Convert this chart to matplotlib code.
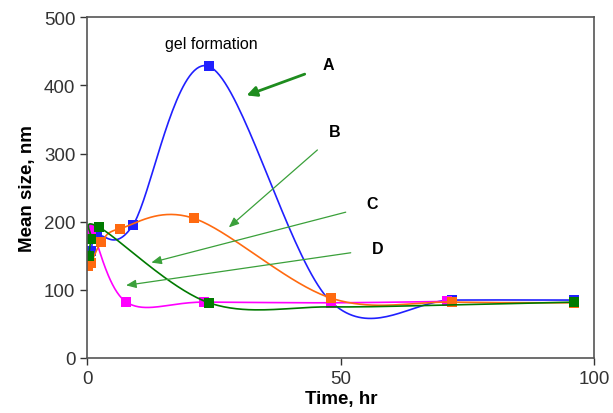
import numpy as np
from matplotlib import pyplot as plt

plt.rcParams['font.family'] = ['Liberation Sans', 'DejaVu Sans']

# data (time in hr, mean size in nm)
timeA = [0, 0.7, 2, 9, 24, 48, 72, 96]
sizeA = [148, 157, 179, 195, 428, 83, 85, 85]

timeB = [0.2, 0.7, 2.8, 6.5, 21, 48, 72, 96]
sizeB = [135, 139, 170, 190, 205, 88, 82, 81]

timeC = [0.3, 0.8, 2.3, 24, 48, 72, 96]
sizeC = [149, 174, 192, 81, 75, 78, 82]

timeD = [0, 0.8, 7.7, 23, 48, 71]
sizeD = [174, 189, 82, 82, 81, 83]

# label text, label position, arrow tail, arrow head
labels = ['A', 'B', 'C', 'D']
label_pos = [(47.5, 430), (48.8, 332), (56.1, 226), (57.3, 160)]
arrow_tail = [(43.4, 418), (45.8, 308), (51.5, 215), (52.5, 155)]
arrow_head = [(30.9, 384), (27.5, 189), (12.1, 139), (7.1, 106)]


def smoothLine(xs, ys, n=40):
    # excel style smoothed line: bezier segments with catmull-rom control points
    p = np.column_stack([xs, ys]).astype(float)
    out = []
    for i in range(len(p) - 1):
        p0 = p[i - 1] if i > 0 else p[i]
        p1 = p[i]
        p2 = p[i + 1]
        p3 = p[i + 2] if i + 2 < len(p) else p[i + 1]
        c1 = p1 + (p2 - p0) / 6
        c2 = p2 - (p3 - p1) / 6
        t = np.linspace(0, 1, n)[:, None]
        seg = (1 - t)**3 * p1 + 3 * (1 - t)**2 * t * c1 + 3 * (1 - t) * t**2 * c2 + t**3 * p2
        out.append(seg)
    out = np.vstack(out)
    return out[:, 0], out[:, 1]


fig = plt.figure(figsize=(6.13, 4.14), dpi=100)
ax = fig.add_axes([0.1424, 0.1329, 0.8271, 0.8229])

# green markers at 48 and 72 sit behind the other squares in the original
series = [(timeA, sizeA, '#2020ff', None),
          (timeD, sizeD, '#ff00ff', None),
          (timeB, sizeB, '#ff6a10', None),
          (timeC, sizeC, '#007a00', [0, 1, 2, 3, 6])]

for xs, ys, col, every in series:
    sx, sy = smoothLine(xs, ys)
    ax.plot(sx, sy, color=col, lw=1.2)
    ax.plot(xs, ys, 's', color=col, markersize=6.5, markeredgewidth=0, markevery=every)

ax.text(24.4, 461, 'gel formation', ha='center', va='center', fontsize=11.5)

for i in range(len(labels)):
    ax.text(label_pos[i][0], label_pos[i][1], labels[i], ha='center', va='center',
            fontsize=11.5, fontweight='bold')
    if i == 0:
        props = dict(arrowstyle='-|>,head_length=0.6,head_width=0.3', color='#1e8c1e', lw=2)
    else:
        props = dict(arrowstyle='-|>,head_length=0.6,head_width=0.25', color='#3aa03a', lw=0.9)
    ax.annotate('', xy=arrow_head[i], xytext=arrow_tail[i], arrowprops=props)

ax.set_xlim(0, 100)
ax.set_ylim(0, 500)
ax.set_xticks([0, 50, 100])
ax.set_yticks([0, 100, 200, 300, 400, 500])
ax.tick_params(labelsize=13.5, colors='#333333', length=5, width=1)
for s in ax.spines.values():
    s.set_color('#555555')
    s.set_linewidth(1.2)

ax.set_xlabel('Time, hr', fontsize=13.5, fontweight='bold', labelpad=2)
ax.set_ylabel('Mean size, nm', fontsize=13.5, fontweight='bold', labelpad=6)

fig.savefig('out.png', dpi=100)
